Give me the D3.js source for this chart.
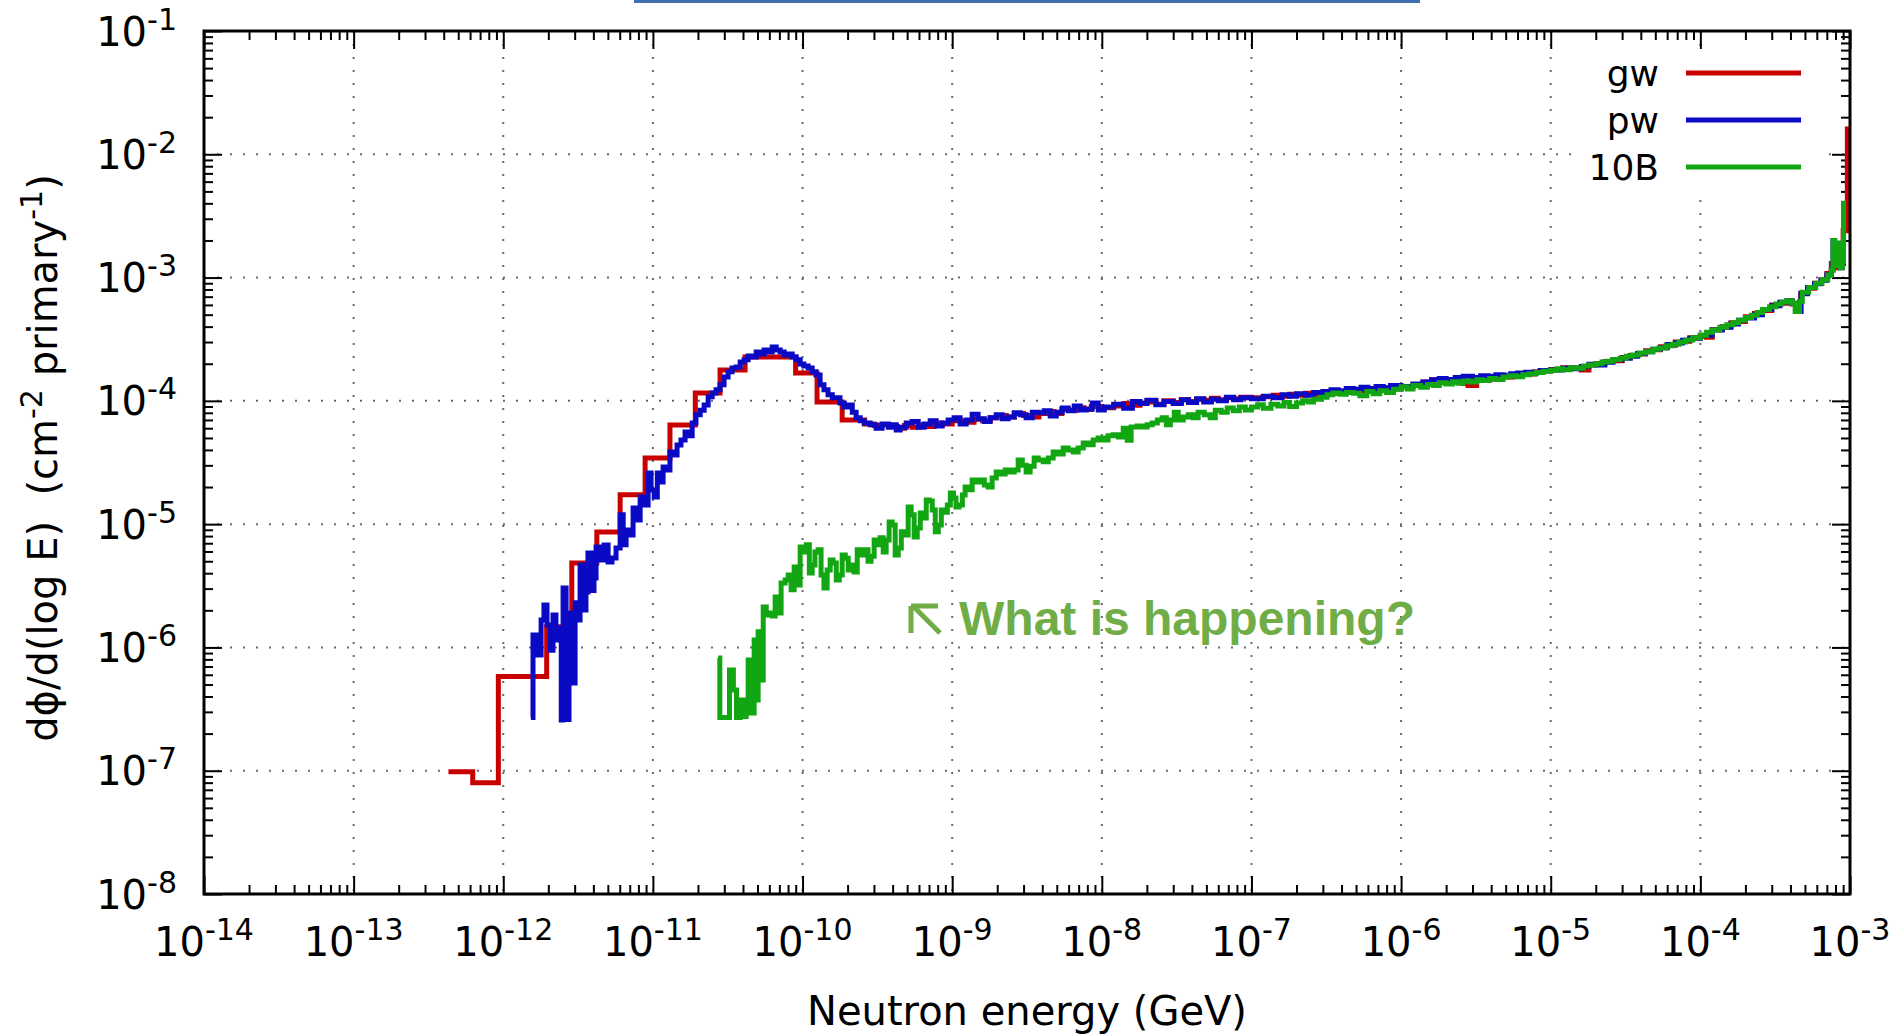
<!DOCTYPE html>
<html>
<head>
<meta charset="utf-8">
<script src="https://cdn.jsdelivr.net/npm/d3@7"></script>
<style>
  html, body { margin: 0; padding: 0; background: #fff; }
  svg { display: block; }
  text { white-space: pre; }
</style>
</head>
<body>
<svg id="chart" width="1903" height="1034" font-family="'DejaVu Sans', sans-serif"></svg>
<script>
// ---- Axis decades (exponents of 10) ----
const xTickExponents = [-14, -13, -12, -11, -10, -9, -8, -7, -6, -5, -4, -3];
const yTickExponents = [-8, -7, -6, -5, -4, -3, -2, -1];

// ---- Series names ----
const seriesNames = ["gw", "pw", "10B"];

// ---- gw : neutron energy (GeV) and flux per unit lethargy ----
const gwEnergy = [
  4.3e-13, 6.25e-13, 9.27e-13, 1.95e-12, 2.87e-12, 4.22e-12, 6.04e-12, 8.87e-12, 1.3e-11, 1.92e-11,
  2.81e-11, 4.13e-11, 8.99e-11, 1.25e-10, 1.84e-10,
  2.6e-10, 3.0e-10, 3.4e-10, 3.8e-10, 4.3e-10, 4.8e-10, 5.4e-10, 6.0e-10, 6.8e-10, 7.6e-10, 8.5e-10,
  1.0e-9, 1.2e-9, 1.4e-9, 1.6e-9, 1.8e-9, 2.0e-9, 2.3e-9, 2.6e-9, 3.0e-9, 3.4e-9, 3.8e-9, 4.3e-9, 4.8e-9, 5.4e-9, 6.0e-9, 6.8e-9, 7.6e-9, 8.5e-9,
  1.0e-8, 1.2e-8, 1.4e-8, 1.6e-8, 1.8e-8, 2.0e-8, 2.3e-8, 2.6e-8, 3.0e-8, 3.4e-8, 3.8e-8, 4.3e-8, 4.8e-8, 5.4e-8, 6.0e-8, 6.8e-8, 7.6e-8, 8.5e-8,
  1.0e-7, 1.2e-7, 1.4e-7, 1.6e-7, 1.8e-7, 2.0e-7, 2.3e-7, 2.6e-7, 3.0e-7, 3.4e-7, 3.8e-7, 4.3e-7, 4.8e-7, 5.4e-7, 6.0e-7, 6.8e-7, 7.6e-7, 8.5e-7,
  1.0e-6, 1.2e-6, 1.4e-6, 1.6e-6, 1.8e-6, 2.0e-6, 2.3e-6, 2.6e-6, 2.8e-6, 3.2e-6, 3.6e-6, 4.0e-6, 4.5e-6, 5.0e-6, 5.6e-6, 6.3e-6, 7.0e-6, 7.8e-6, 8.7e-6,
  1.0e-5, 1.2e-5, 1.4e-5, 1.6e-5, 1.8e-5, 2.0e-5, 2.3e-5, 2.6e-5, 3.0e-5, 3.4e-5, 3.8e-5, 4.3e-5, 4.8e-5, 5.4e-5, 6.0e-5, 6.8e-5, 7.6e-5, 8.5e-5,
  1.0e-4, 1.1e-4, 1.2e-4, 1.4e-4, 1.6e-4, 1.8e-4, 2.0e-4, 2.3e-4, 2.6e-4, 3.0e-4, 3.4e-4, 3.8e-4, 4.1e-4, 4.4e-4, 4.7e-4, 5.2e-4,
  5.8e-4, 6.4e-4, 7.0e-4, 7.5e-4, 7.8e-4, 8.2e-4, 8.6e-4, 9.0e-4, 9.6e-4, 1.0e-3
];
const gwFlux = [
  9.8e-8, 8.0e-8, 5.8e-7, 1.47e-6, 4.84e-6, 8.65e-6, 1.73e-5, 3.44e-5, 6.38e-5, 1.16e-4,
  1.78e-4, 2.27e-4, 1.68e-4, 9.8e-5, 7.0e-5,
  6.5e-5, 6.3e-5, 6.4e-5, 6.2e-5, 6.0e-5, 6.3e-5, 6.1e-5, 6.4e-5, 6.2e-5, 6.6e-5, 6.5e-5,
  6.9e-5, 6.7e-5, 7.1e-5, 6.9e-5, 7.3e-5, 7.6e-5, 7.4e-5, 7.9e-5, 7.6e-5, 7.4e-5, 7.9e-5, 8.2e-5, 7.9e-5, 8.5e-5, 8.4e-5, 8.8e-5, 8.5e-5, 9.0e-5,
  8.8e-5, 9.1e-5, 9.5e-5, 9.2e-5, 9.6e-5, 9.8e-5, 9.4e-5, 1.0e-4, 9.7e-5, 1.02e-4, 9.9e-5, 1.03e-4, 1.01e-4, 1.05e-4, 1.02e-4, 1.06e-4, 1.04e-4, 1.07e-4,
  1.06e-4, 1.08e-4, 1.11e-4, 1.09e-4, 1.13e-4, 1.11e-4, 1.15e-4, 1.13e-4, 1.17e-4, 1.15e-4, 1.2e-4, 1.18e-4, 1.23e-4, 1.21e-4, 1.25e-4, 1.23e-4, 1.27e-4, 1.25e-4,
  1.3e-4, 1.34e-4, 1.42e-4, 1.48e-4, 1.4e-4, 1.45e-4, 1.42e-4, 1.38e-4, 1.33e-4, 1.47e-4, 1.5e-4, 1.55e-4, 1.6e-4, 1.56e-4, 1.63e-4, 1.67e-4, 1.65e-4, 1.72e-4, 1.75e-4,
  1.8e-4, 1.86e-4, 1.85e-4, 1.78e-4, 1.95e-4, 2.0e-4, 2.08e-4, 2.12e-4, 2.25e-4, 2.33e-4, 2.4e-4, 2.55e-4, 2.6e-4, 2.75e-4, 2.82e-4, 3.0e-4, 3.05e-4, 3.25e-4,
  3.35e-4, 3.28e-4, 3.8e-4, 4.0e-4, 4.3e-4, 4.4e-4, 4.8e-4, 5.1e-4, 5.4e-4, 6.0e-4, 6.2e-4, 6.5e-4, 6.1e-4, 5.4e-4, 7.5e-4, 8.2e-4,
  9.0e-4, 9.6e-4, 1.08e-3, 1.3e-3, 1.2e-3, 1.8e-3, 1.4e-3, 2.4e-3, 1.6e-2, 1.6e-2
];

// ---- pw ----
const pwEnergy = [
  1.53e-12, 1.58e-12, 1.68e-12, 1.79e-12, 1.87e-12, 1.96e-12, 2.06e-12, 2.15e-12, 2.25e-12, 2.36e-12,
  2.44e-12, 2.51e-12, 2.63e-12, 2.75e-12, 2.88e-12, 3.02e-12, 3.16e-12, 3.26e-12, 3.41e-12, 3.57e-12,
  3.68e-12, 3.86e-12, 4.04e-12, 4.17e-12, 4.44e-12, 4.72e-12, 5.02e-12, 5.33e-12, 5.67e-12, 6.04e-12,
  6.33e-12, 6.62e-12, 7.05e-12, 7.37e-12, 7.84e-12, 8.22e-12, 8.74e-12, 9.29e-12, 9.72e-12, 1.02e-11,
  1.07e-11, 1.12e-11, 1.17e-11, 1.24e-11, 1.30e-11, 1.39e-11, 1.45e-11, 1.54e-11, 1.64e-11, 1.72e-11,
  1.83e-11, 1.94e-11, 2.07e-11, 2.20e-11, 2.34e-11, 2.49e-11, 2.64e-11, 2.81e-11, 2.99e-11, 3.18e-11,
  3.38e-11, 3.60e-11, 3.83e-11, 4.07e-11, 4.33e-11, 4.61e-11, 4.90e-11, 5.21e-11, 5.54e-11, 5.90e-11,
  6.27e-11, 6.67e-11, 7.09e-11, 7.54e-11, 8.02e-11, 8.53e-11, 9.07e-11, 9.65e-11, 1.02e-10, 1.09e-10,
  1.16e-10, 1.23e-10, 1.31e-10, 1.39e-10, 1.48e-10, 1.58e-10, 1.68e-10, 1.78e-10, 1.90e-10, 2.02e-10,
  2.15e-10, 2.28e-10, 2.43e-10, 2.58e-10, 2.83e-10, 3.10e-10, 3.40e-10, 3.74e-10, 3.97e-10, 4.23e-10,
  4.49e-10, 4.93e-10, 5.40e-10, 5.93e-10, 6.50e-10, 7.13e-10, 7.82e-10, 8.58e-10, 9.40e-10, 1.03e-9,
  1.13e-9, 1.24e-9, 1.36e-9, 1.49e-9, 1.64e-9, 1.79e-9, 1.97e-9, 2.16e-9, 2.37e-9, 2.60e-9,
  2.85e-9, 3.12e-9, 3.43e-9, 3.76e-9, 4.12e-9, 4.52e-9, 4.96e-9, 5.44e-9, 5.97e-9, 6.54e-9,
  7.18e-9, 7.87e-9, 8.63e-9, 9.47e-9,
  1.04e-8, 1.2e-8, 1.4e-8, 1.6e-8, 1.8e-8, 2.0e-8, 2.3e-8, 2.6e-8, 3.0e-8, 3.4e-8, 3.8e-8, 4.3e-8, 4.8e-8, 5.4e-8, 6.0e-8, 6.8e-8, 7.6e-8, 8.5e-8,
  1.0e-7, 1.2e-7, 1.4e-7, 1.6e-7, 1.8e-7, 2.0e-7, 2.3e-7, 2.6e-7, 3.0e-7, 3.4e-7, 3.8e-7, 4.3e-7, 4.8e-7, 5.4e-7, 6.0e-7, 6.8e-7, 7.6e-7, 8.5e-7,
  1.0e-6, 1.2e-6, 1.4e-6, 1.6e-6, 1.8e-6, 2.0e-6, 2.3e-6, 2.6e-6, 3.0e-6, 3.4e-6, 3.8e-6, 4.3e-6, 4.8e-6, 5.4e-6, 6.0e-6, 6.8e-6, 7.6e-6, 8.5e-6,
  1.0e-5, 1.2e-5, 1.4e-5, 1.6e-5, 1.8e-5, 2.0e-5, 2.3e-5, 2.6e-5, 3.0e-5, 3.4e-5, 3.8e-5, 4.3e-5, 4.8e-5, 5.4e-5, 6.0e-5, 6.8e-5, 7.6e-5, 8.5e-5,
  1.0e-4, 1.2e-4, 1.4e-4, 1.6e-4, 1.8e-4, 2.0e-4, 2.3e-4, 2.6e-4, 3.0e-4, 3.4e-4, 3.8e-4, 4.1e-4, 4.4e-4, 4.7e-4,
  5.2e-4, 5.8e-4, 6.4e-4, 7.0e-4, 7.5e-4, 7.7e-4, 7.9e-4, 8.2e-4, 8.4e-4, 8.6e-4, 8.9e-4, 9.05e-4, 9.4e-4
];
const pwFlux = [
  2.7e-7, 1.26e-6, 8.7e-7, 1.67e-6, 2.21e-6, 1.52e-6, 9.5e-7, 1.83e-6, 1.15e-6, 1.44e-6,
  2.58e-7, 3.04e-6, 2.6e-7, 1.9e-6, 5.15e-7, 2.3e-6, 1.67e-6, 4.66e-6, 2.01e-6, 2.82e-6,
  5.84e-6, 2.9e-6, 3.66e-6, 6.53e-6, 5.12e-6, 6.78e-6, 4.94e-6, 5.32e-6, 6.4e-6, 1.19e-5,
  6.8e-6, 8.97e-6, 8.17e-6, 1.35e-5, 1.08e-5, 1.66e-5, 1.43e-5, 2.6e-5, 1.89e-5, 1.66e-5,
  2.6e-5, 2.2e-5, 2.91e-5, 2.75e-5, 3.85e-5, 3.64e-5, 4.39e-5, 4.82e-5, 5.6e-5, 5.2e-5,
  6.6e-5, 7.7e-5, 8.4e-5, 9.27e-5, 1.08e-4, 1.16e-4, 1.23e-4, 1.35e-4, 1.56e-4, 1.72e-4,
  1.85e-4, 1.88e-4, 2.07e-4, 2.15e-4, 2.31e-4, 2.27e-4, 2.49e-4, 2.4e-4, 2.59e-4, 2.49e-4,
  2.74e-4, 2.59e-4, 2.49e-4, 2.36e-4, 2.4e-4, 2.27e-4, 2.15e-4, 1.99e-4, 1.92e-4, 1.85e-4,
  1.72e-4, 1.62e-4, 1.35e-4, 1.23e-4, 1.12e-4, 1.06e-4, 1.06e-4, 9.6e-5, 8.9e-5, 9.25e-5,
  8.1e-5, 7.3e-5, 6.9e-5, 6.6e-5, 6.4e-5, 6.0e-5, 6.5e-5, 6.1e-5, 6.4e-5, 5.8e-5,
  6.1e-5, 6.6e-5, 6.8e-5, 6.1e-5, 6.5e-5, 6.9e-5, 6.25e-5, 6.6e-5, 7.0e-5, 7.3e-5,
  6.5e-5, 7.0e-5, 7.8e-5, 7.15e-5, 6.8e-5, 7.3e-5, 7.7e-5, 7.15e-5, 7.4e-5, 8.0e-5,
  7.7e-5, 7.3e-5, 8.1e-5, 8.0e-5, 8.3e-5, 7.55e-5, 8.1e-5, 8.75e-5, 8.3e-5, 9.1e-5,
  8.45e-5, 8.6e-5, 9.6e-5, 8.45e-5,
  8.9e-5, 9.4e-5, 8.7e-5, 9.9e-5, 9.5e-5, 1.01e-4, 9.3e-5, 9.9e-5, 9.5e-5, 1.02e-4, 9.7e-5, 1.04e-4, 9.8e-5, 1.03e-4, 1.0e-4, 1.07e-4, 1.02e-4, 1.06e-4,
  1.04e-4, 1.09e-4, 1.06e-4, 1.12e-4, 1.09e-4, 1.14e-4, 1.11e-4, 1.17e-4, 1.19e-4, 1.23e-4, 1.2e-4, 1.26e-4, 1.24e-4, 1.29e-4, 1.26e-4, 1.31e-4, 1.28e-4, 1.33e-4,
  1.31e-4, 1.37e-4, 1.42e-4, 1.48e-4, 1.52e-4, 1.49e-4, 1.55e-4, 1.58e-4, 1.55e-4, 1.6e-4, 1.58e-4, 1.63e-4, 1.61e-4, 1.66e-4, 1.68e-4, 1.71e-4, 1.7e-4, 1.76e-4,
  1.78e-4, 1.84e-4, 1.82e-4, 1.9e-4, 1.98e-4, 1.95e-4, 2.06e-4, 2.15e-4, 2.22e-4, 2.3e-4, 2.42e-4, 2.5e-4, 2.62e-4, 2.7e-4, 2.86e-4, 2.95e-4, 3.1e-4, 3.22e-4,
  3.4e-4, 3.75e-4, 3.95e-4, 4.2e-4, 4.5e-4, 4.7e-4, 5.0e-4, 5.5e-4, 5.9e-4, 6.3e-4, 6.5e-4, 6.2e-4, 5.3e-4, 7.4e-4,
  8.3e-4, 8.9e-4, 9.5e-4, 1.05e-3, 1.15e-3, 2.0e-3, 1.3e-3, 1.5e-3, 1.9e-3, 1.2e-3, 1.3e-3, 3.6e-3, 3.6e-3
];

// ---- 10B ----
const b10Energy = [
  2.73e-11, 2.8e-11, 3.25e-11, 3.45e-11, 3.62e-11, 3.83e-11, 4.01e-11, 4.2e-11, 4.33e-11, 4.53e-11,
  4.75e-11, 4.9e-11, 5.05e-11, 5.21e-11, 5.46e-11, 5.72e-11, 5.98e-11, 6.27e-11, 6.56e-11, 6.87e-11,
  7.19e-11, 7.65e-11, 8.02e-11, 8.39e-11, 8.79e-11, 9.2e-11, 9.64e-11, 1.01e-10, 1.06e-10, 1.11e-10,
  1.16e-10, 1.21e-10, 1.27e-10, 1.33e-10, 1.39e-10, 1.46e-10, 1.53e-10, 1.6e-10, 1.68e-10, 1.76e-10,
  1.84e-10, 1.93e-10, 2.02e-10, 2.11e-10, 2.21e-10, 2.32e-10, 2.43e-10, 2.58e-10, 2.74e-10, 2.87e-10,
  3.01e-10, 3.15e-10, 3.3e-10, 3.46e-10, 3.62e-10, 3.79e-10, 3.97e-10, 4.16e-10, 4.36e-10, 4.57e-10,
  4.85e-10, 5.08e-10, 5.32e-10, 5.57e-10, 5.84e-10, 6.12e-10, 6.41e-10, 6.71e-10, 7.03e-10, 7.36e-10,
  7.71e-10, 8.08e-10, 8.46e-10, 8.86e-10, 9.28e-10, 9.72e-10, 1.02e-9, 1.06e-9, 1.11e-9, 1.17e-9,
  1.22e-9, 1.28e-9, 1.36e-9, 1.45e-9, 1.54e-9, 1.64e-9, 1.74e-9, 1.85e-9, 1.97e-9, 2.09e-9,
  2.26e-9, 2.44e-9, 2.6e-9, 2.76e-9, 2.94e-9, 3.12e-9, 3.32e-9, 3.53e-9, 3.76e-9, 4.06e-9,
  4.39e-9, 4.73e-9, 5.11e-9, 5.52e-9, 5.97e-9, 6.44e-9, 6.95e-9, 7.51e-9, 8.11e-9, 8.76e-9,
  9.46e-9, 1.02e-8, 1.1e-8, 1.19e-8, 1.29e-8, 1.39e-8, 1.48e-8, 1.57e-8, 1.72e-8, 1.86e-8,
  2.01e-8, 2.17e-8, 2.35e-8, 2.53e-8, 2.7e-8, 2.87e-8, 3.05e-8, 3.24e-8, 3.5e-8, 3.78e-8,
  4.08e-8, 4.4e-8, 4.84e-8, 5.3e-8, 5.73e-8, 6.28e-8, 6.89e-8, 7.55e-8, 8.29e-8, 9.1e-8,
  1.0e-7, 1.1e-7, 1.2e-7, 1.35e-7, 1.5e-7, 1.65e-7, 1.8e-7, 2.0e-7, 2.2e-7, 2.4e-7, 2.6e-7, 2.9e-7,
  3.2e-7, 3.5e-7, 3.9e-7, 4.3e-7, 4.8e-7, 5.3e-7, 5.9e-7, 6.5e-7, 7.2e-7, 8.0e-7, 8.9e-7,
  1.0e-6, 1.1e-6, 1.2e-6, 1.35e-6, 1.5e-6, 1.65e-6, 1.8e-6, 2.0e-6, 2.2e-6, 2.4e-6, 2.6e-6, 2.9e-6,
  3.2e-6, 3.5e-6, 3.9e-6, 4.3e-6, 4.8e-6, 5.3e-6, 5.9e-6, 6.5e-6, 7.2e-6, 8.0e-6, 8.9e-6,
  1.0e-5, 1.1e-5, 1.2e-5, 1.35e-5, 1.5e-5, 1.65e-5, 1.8e-5, 2.0e-5, 2.2e-5, 2.4e-5, 2.6e-5, 2.9e-5,
  3.2e-5, 3.5e-5, 3.9e-5, 4.3e-5, 4.8e-5, 5.3e-5, 5.9e-5, 6.5e-5, 7.2e-5, 8.0e-5, 8.9e-5,
  1.0e-4, 1.1e-4, 1.2e-4, 1.35e-4, 1.5e-4, 1.65e-4, 1.8e-4, 2.0e-4, 2.2e-4, 2.4e-4, 2.6e-4, 2.9e-4,
  3.2e-4, 3.5e-4, 3.8e-4, 4.1e-4, 4.3e-4, 4.6e-4, 4.8e-4, 5.3e-4, 5.9e-4, 6.5e-4, 7.1e-4, 7.5e-4,
  7.7e-4, 7.9e-4, 8.2e-4, 8.4e-4, 8.6e-4, 8.9e-4, 9.05e-4, 9.4e-4
];
const b10Flux = [
  8.2e-7, 2.7e-7, 6.56e-7, 4.52e-7, 2.7e-7, 3.75e-7, 2.75e-7, 3.1e-7, 7.9e-7, 2.94e-7,
  1.15e-6, 3.75e-7, 1.34e-6, 5.45e-7, 2.13e-6, 1.83e-6, 1.9e-6, 1.8e-6, 2.57e-6, 1.9e-6,
  3.33e-6, 3.52e-6, 3.87e-6, 2.93e-6, 4.5e-6, 3.21e-6, 6.53e-6, 5.95e-6, 6.8e-6, 4.02e-6,
  4.66e-6, 5.95e-6, 6.2e-6, 3.87e-6, 3.04e-6, 4.25e-6, 5.12e-6, 4.84e-6, 3.52e-6, 3.87e-6,
  5.62e-6, 5.3e-6, 4.25e-6, 4.66e-6, 4.1e-6, 6.2e-6, 5.62e-6, 6.2e-6, 5.0e-6, 5.5e-6,
  7.44e-6, 6.8e-6, 7.75e-6, 5.95e-6, 7.44e-6, 1.04e-5, 9.85e-6, 5.62e-6, 6.4e-6, 8.66e-6,
  8.17e-6, 1.38e-5, 1.19e-5, 7.87e-6, 9.3e-6, 1.23e-5, 1.12e-5, 1.57e-5, 1.54e-5, 1.3e-5,
  8.66e-6, 9.85e-6, 1.3e-5, 1.25e-5, 1.43e-5, 1.79e-5, 1.63e-5, 1.38e-5, 1.43e-5, 1.72e-5,
  2.0e-5, 1.9e-5, 2.28e-5, 2.2e-5, 2.28e-5, 2.08e-5, 2.0e-5, 2.37e-5, 2.65e-5, 2.55e-5,
  2.75e-5, 2.65e-5, 2.75e-5, 3.31e-5, 3.0e-5, 2.65e-5, 2.95e-5, 3.44e-5, 3.31e-5, 3.2e-5,
  3.44e-5, 3.85e-5, 3.7e-5, 4.15e-5, 4.0e-5, 3.85e-5, 4.15e-5, 4.56e-5, 4.4e-5, 4.82e-5,
  5.0e-5, 4.82e-5, 5.2e-5, 5.3e-5, 5.1e-5, 6.0e-5, 4.8e-5, 6.15e-5, 6.25e-5, 6.15e-5,
  6.4e-5, 6.6e-5, 7.0e-5, 7.3e-5, 6.4e-5, 7.0e-5, 8.1e-5, 7.0e-5, 7.4e-5, 7.7e-5,
  7.3e-5, 8.1e-5, 7.7e-5, 7.3e-5, 8.4e-5, 8.1e-5, 8.75e-5, 8.3e-5, 8.9e-5, 8.45e-5,
  8.9e-5, 9.3e-5, 8.7e-5, 9.4e-5, 9.1e-5, 9.7e-5, 9.0e-5, 9.6e-5, 1.0e-4, 9.8e-5, 1.03e-4, 1.07e-4,
  1.12e-4, 1.16e-4, 1.13e-4, 1.17e-4, 1.15e-4, 1.1e-4, 1.19e-4, 1.14e-4, 1.21e-4, 1.17e-4, 1.24e-4,
  1.3e-4, 1.25e-4, 1.33e-4, 1.29e-4, 1.36e-4, 1.33e-4, 1.4e-4, 1.37e-4, 1.43e-4, 1.39e-4, 1.45e-4, 1.42e-4,
  1.48e-4, 1.46e-4, 1.52e-4, 1.49e-4, 1.56e-4, 1.6e-4, 1.57e-4, 1.63e-4, 1.66e-4, 1.7e-4, 1.74e-4,
  1.77e-4, 1.82e-4, 1.79e-4, 1.86e-4, 1.84e-4, 1.92e-4, 1.95e-4, 2.0e-4, 2.07e-4, 2.1e-4, 2.17e-4, 2.22e-4,
  2.3e-4, 2.35e-4, 2.45e-4, 2.5e-4, 2.62e-4, 2.68e-4, 2.8e-4, 2.88e-4, 3.0e-4, 3.12e-4, 3.25e-4,
  3.4e-4, 3.6e-4, 3.75e-4, 3.95e-4, 4.15e-4, 4.3e-4, 4.5e-4, 4.75e-4, 4.95e-4, 5.2e-4, 5.5e-4, 5.8e-4,
  6.1e-4, 6.35e-4, 6.5e-4, 6.2e-4, 5.3e-4, 6.4e-4, 7.6e-4, 8.3e-4, 9.0e-4, 9.6e-4, 1.05e-3, 1.15e-3,
  2.0e-3, 1.25e-3, 1.5e-3, 1.9e-3, 1.2e-3, 1.35e-3, 4.0e-3, 4.0e-3
];

const seriesColors = ["#c80000", "#0a0ac4", "#12a612"];
const annotationText = "What is happening?";

// ---- Layout ----
const svg = d3.select("#chart");
const plot = { left: 204, right: 1850, top: 31, bottom: 894 };
const x = d3.scaleLog().domain([1e-14, 1e-3]).range([plot.left, plot.right]);
const y = d3.scaleLog().domain([1e-8, 1e-1]).range([plot.bottom, plot.top]);

svg.append("rect").attr("width", 1903).attr("height", 1034).attr("fill", "#fff");

// slide header rule above the plot
svg.append("rect").attr("x", 634).attr("y", 0).attr("width", 786).attr("height", 3).attr("fill", "#4170b0");

// major / minor tick values from the decades
const xMajor = xTickExponents.map(p => Math.pow(10, p));
const yMajor = yTickExponents.map(p => Math.pow(10, p));
function minorsOf(exps) {
  const out = [];
  for (let i = 0; i < exps.length - 1; i++)
    for (let m = 2; m <= 9; m++) out.push(m * Math.pow(10, exps[i]));
  return out;
}
const xMinor = minorsOf(xTickExponents);
const yMinor = minorsOf(yTickExponents);

// dotted grid at the interior decades
const grid = svg.append("g").attr("stroke", "#6a6a6a").attr("stroke-width", 2).attr("stroke-dasharray", "2,11");
grid.selectAll("line.gx").data(xMajor.slice(1, -1)).join("line")
  .attr("x1", d => x(d)).attr("x2", d => x(d)).attr("y1", plot.top).attr("y2", plot.bottom);
grid.selectAll("line.gy").data(yMajor.slice(1, -1)).join("line")
  .attr("y1", d => y(d)).attr("y2", d => y(d)).attr("x1", plot.left).attr("x2", plot.right);

// inward ticks on all four sides
function ticks(gen, transform, values, size) {
  svg.append("g").attr("transform", transform)
    .call(gen.tickValues(values).tickSizeInner(-size).tickSizeOuter(0).tickFormat(""))
    .call(g => g.select(".domain").remove())
    .call(g => g.selectAll(".tick line").attr("stroke", "#000").attr("stroke-width", 2));
}
ticks(d3.axisBottom(x), `translate(0,${plot.bottom})`, xMajor, 18);
ticks(d3.axisBottom(x), `translate(0,${plot.bottom})`, xMinor, 9);
ticks(d3.axisTop(x), `translate(0,${plot.top})`, xMajor, 18);
ticks(d3.axisTop(x), `translate(0,${plot.top})`, xMinor, 9);
ticks(d3.axisLeft(y), `translate(${plot.left},0)`, yMajor, 18);
ticks(d3.axisLeft(y), `translate(${plot.left},0)`, yMinor, 9);
ticks(d3.axisRight(y), `translate(${plot.right},0)`, yMajor, 18);
ticks(d3.axisRight(y), `translate(${plot.right},0)`, yMinor, 9);

// legend box (opaque, hides the grid behind it)
svg.append("rect").attr("x", 1582).attr("y", 50).attr("width", 241).attr("height", 140).attr("fill", "#fff");

// spectra
svg.append("clipPath").attr("id", "plotClip").append("rect")
  .attr("x", plot.left).attr("y", plot.top).attr("width", plot.right - plot.left).attr("height", plot.bottom - plot.top);

const line = d3.line().x(d => x(d[0])).y(d => y(d[1])).curve(d3.curveStepAfter);
const series = [
  gwEnergy.map((e, i) => [e, gwFlux[i]]),
  pwEnergy.map((e, i) => [e, pwFlux[i]]),
  b10Energy.map((e, i) => [e, b10Flux[i]])
].map(s => s.filter(d => d[1] !== undefined));

svg.append("g").attr("clip-path", "url(#plotClip)")
  .selectAll("path").data(series).join("path")
  .attr("d", line)
  .attr("fill", "none")
  .attr("stroke", (d, i) => seriesColors[i])
  .attr("stroke-width", 5)
  .attr("stroke-linejoin", "miter");

// frame
svg.append("rect").attr("x", plot.left).attr("y", plot.top)
  .attr("width", plot.right - plot.left).attr("height", plot.bottom - plot.top)
  .attr("fill", "none").attr("stroke", "#000").attr("stroke-width", 3);

// tick labels
function powerLabel(sel) {
  sel.append("tspan").text("10");
  sel.append("tspan").attr("dy", -16).attr("font-size", 30).text(p => String(p));
}
svg.append("g").attr("font-size", 40).attr("fill", "#000")
  .selectAll("text").data(xTickExponents).join("text")
  .attr("x", p => x(Math.pow(10, p))).attr("y", plot.bottom + 62)
  .attr("text-anchor", "middle").call(powerLabel);
svg.append("g").attr("font-size", 40).attr("fill", "#000")
  .selectAll("text").data(yTickExponents).join("text")
  .attr("x", 177).attr("y", p => y(Math.pow(10, p)) + 14.5)
  .attr("text-anchor", "end").call(powerLabel);

// axis titles
svg.append("text").attr("x", (plot.left + plot.right) / 2).attr("y", 1025)
  .attr("text-anchor", "middle").attr("font-size", 40).text("Neutron energy (GeV)");

const yTitle = svg.append("text").attr("transform", "translate(57,458) rotate(-90)")
  .attr("text-anchor", "middle").attr("font-size", 40);
yTitle.append("tspan").text("d\u03D5/d(log E)  (cm");
yTitle.append("tspan").attr("dy", -15).attr("font-size", 30).text("-2");
yTitle.append("tspan").attr("dy", 15).text(" primary");
yTitle.append("tspan").attr("dy", -15).attr("font-size", 30).text("-1");
yTitle.append("tspan").attr("dy", 15).text(")");

// legend
const legend = svg.append("g");
seriesNames.forEach((name, i) => {
  const ly = 73 + i * 47;
  legend.append("text").attr("x", 1659).attr("y", ly + 13).attr("text-anchor", "end")
    .attr("font-size", 36).text(name);
  legend.append("line").attr("x1", 1686).attr("x2", 1801).attr("y1", ly).attr("y2", ly)
    .attr("stroke", seriesColors[i]).attr("stroke-width", 5);
});

// annotation
const note = svg.append("g").attr("fill", "none").attr("stroke", "#70ad47").attr("stroke-width", 5);
note.append("path").attr("d", "M940,633 L913,606 M911,606 H938 M911,606 V633");
svg.append("text").attr("x", 959).attr("y", 635)
  .style("font-family", "'Liberation Sans', Arial, sans-serif").style("font-weight", "bold")
  .attr("font-size", 48).attr("fill", "#70ad47").text(annotationText);
</script>
</body>
</html>
